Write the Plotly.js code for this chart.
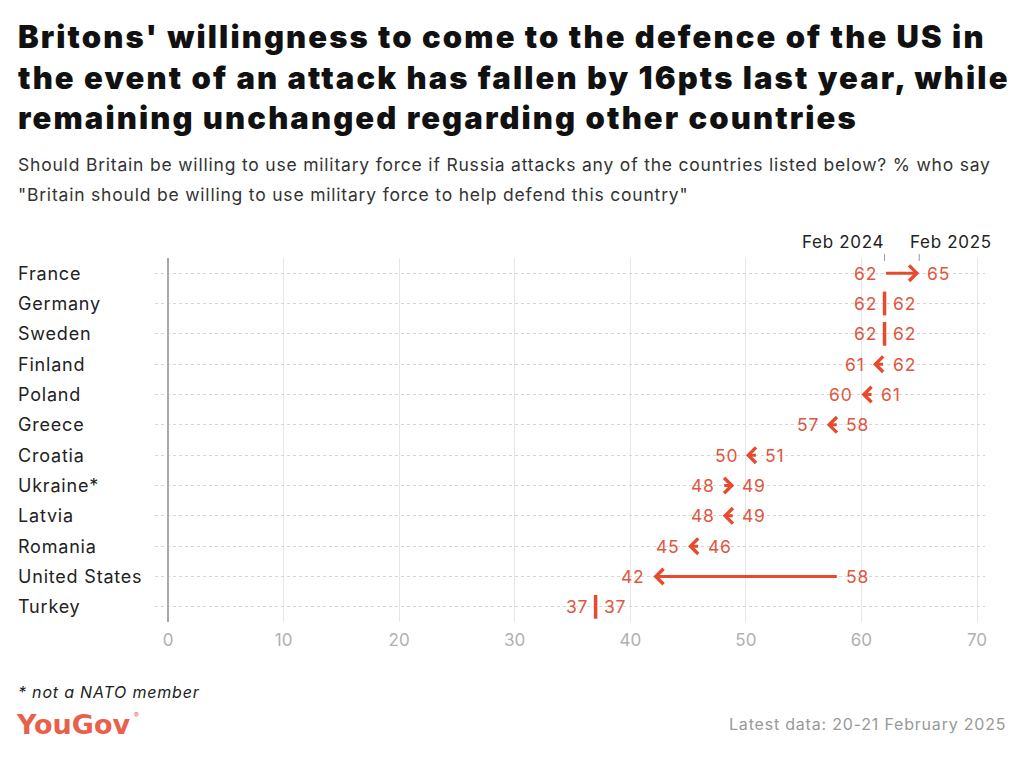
<!DOCTYPE html>
<html>
<head>
<meta charset="utf-8">
<script src="https://cdn.plot.ly/plotly-3.0.1.min.js"></script>
<style>
  html, body { margin: 0; padding: 0; background: #fff; }
  #chart { width: 1024px; height: 758px; }
</style>
</head>
<body>
<div id="chart"></div>
<script>
// ---- Data ----
const countries = ["France", "Germany", "Sweden", "Finland", "Poland", "Greece", "Croatia", "Ukraine*", "Latvia", "Romania", "United States", "Turkey"];
const feb2024 = [62, 62, 62, 62, 61, 58, 51, 48, 49, 46, 58, 37];
const feb2025 = [65, 62, 62, 61, 60, 57, 50, 49, 48, 45, 42, 37];
const xTickVals = [0, 10, 20, 30, 40, 50, 60, 70];
const seriesLabels = ["Feb 2024", "Feb 2025"];

const titleLines = [
  "Britons' willingness to come to the defence of the US in",
  "the event of an attack has fallen by 16pts last year, while",
  "remaining unchanged regarding other countries"
];
const subtitleLines = [
  "Should Britain be willing to use military force if Russia attacks any of the countries listed below? % who say",
  "\"Britain should be willing to use military force to help defend this country\""
];
const footnote = "* not a NATO member";
const sourceNote = "Latest data: 20-21 February 2025";
const logoText = "YouGov";

// ---- Style ----
const FONT = "Inter, 'Open Sans', sans-serif";
const ARROW = "#e84a2e";
const LABEL = "#e0573f";
const W = 1024, H = 758;
const M = { l: 155, r: 39, t: 258, b: 136 };
const plotW = W - M.l - M.r;
const plotH = H - M.t - M.b;
const pxPerUnit = (977 - 168) / 70;
const xMin = -13 / pxPerUnit;
const xMax = xMin + plotW / pxPerUnit;

function py(pixY) { return (H - M.b - pixY) / plotH; }
function px(pixX) { return (pixX - M.l) / plotW; }
function sp(t, ls) { return "<span style='letter-spacing:" + ls + "px'>" + t + "</span>"; }

const annotations = [];
const shapes = [];

titleLines.forEach((t, i) => {
  annotations.push({
    text: sp(t, 2.1), xref: "paper", yref: "paper",
    x: px(16), y: py(37 + i * 40), xanchor: "left", yanchor: "middle",
    showarrow: false, font: { family: FONT, size: 31, color: "#111", weight: 900 }
  });
});
subtitleLines.forEach((t, i) => {
  annotations.push({
    text: sp(t, 0.8), xref: "paper", yref: "paper",
    x: px(16), y: py(164 + i * 30), xanchor: "left", yanchor: "middle",
    showarrow: false, font: { family: FONT, size: 17.5, color: "#333" }
  });
});

// country labels
countries.forEach((c) => {
  annotations.push({
    text: sp(c, 0.8), xref: "paper", yref: "y", x: px(16), y: c,
    xanchor: "left", yanchor: "middle", showarrow: false,
    font: { family: FONT, size: 18, color: "#222" }
  });
});

// arrows and value labels
const unchangedX = [], unchangedY = [];
countries.forEach((c, i) => {
  const a = feb2024[i], b = feb2025[i];
  const lo = Math.min(a, b), hi = Math.max(a, b);
  if (a !== b) {
    annotations.push({
      x: b, y: c, ax: a, ay: c, xref: "x", yref: "y", axref: "x", ayref: "y",
      text: "", showarrow: true, arrowhead: 4, arrowsize: 1.0, arrowwidth: 3,
      arrowcolor: ARROW, standoff: 0, startstandoff: 0
    });
  } else {
    unchangedX.push(a); unchangedY.push(c);
  }
  annotations.push({
    text: sp(String(lo), 0.8), x: lo, y: c, xref: "x", yref: "y",
    xanchor: "right", yanchor: "middle", xshift: -6, showarrow: false,
    font: { family: FONT, size: 17.5, color: LABEL }
  });
  annotations.push({
    text: sp(String(hi), 0.8), x: hi, y: c, xref: "x", yref: "y",
    xanchor: "left", yanchor: "middle", xshift: 6, showarrow: false,
    font: { family: FONT, size: 17.5, color: LABEL }
  });
});

// series header labels above first row
annotations.push({
  text: sp(seriesLabels[0], 0.7), x: feb2024[0], xref: "x", yref: "paper", y: 1,
  xanchor: "right", yanchor: "middle", yshift: 16, xshift: 1, showarrow: false,
  font: { family: FONT, size: 17, color: "#222" }
});
annotations.push({
  text: sp(seriesLabels[1], 0.7), x: feb2025[0], xref: "x", yref: "paper", y: 1,
  xanchor: "left", yanchor: "middle", yshift: 16, xshift: -11, showarrow: false,
  font: { family: FONT, size: 17, color: "#222" }
});
[feb2024[0], feb2025[0]].forEach((v) => {
  shapes.push({
    type: "line", xref: "x", yref: "paper", ysizemode: "pixel", yanchor: 1,
    x0: v, x1: v, y0: -3, y1: 4, line: { color: "#999", width: 1 }
  });
});

// footer
annotations.push({
  text: "<i>" + sp(footnote, 0.8) + "</i>", xref: "paper", yref: "paper",
  x: px(16), y: py(692), xanchor: "left", yanchor: "middle", showarrow: false,
  font: { family: FONT, size: 16, color: "#222" }
});
annotations.push({
  text: logoText, xref: "paper", yref: "paper",
  x: px(14), y: py(724), xanchor: "left", yanchor: "middle", showarrow: false,
  font: { family: "'DejaVu Sans', sans-serif", size: 27, color: "#e8604c", weight: 700 }
});
annotations.push({
  text: "®", xref: "paper", yref: "paper",
  x: px(132), y: py(715), xanchor: "left", yanchor: "middle", showarrow: false,
  font: { family: FONT, size: 7, color: "#e8604c" }
});
annotations.push({
  text: sp(sourceNote, 0.8), xref: "paper", yref: "paper",
  x: px(1008), y: py(724), xanchor: "right", yanchor: "middle", showarrow: false,
  font: { family: FONT, size: 16, color: "#999" }
});

const traces = [{
  type: "scatter", mode: "markers", x: unchangedX, y: unchangedY,
  marker: { symbol: "line-ns", size: 17, line: { color: ARROW, width: 3.5 } },
  hoverinfo: "skip", showlegend: false, cliponaxis: false
}];

const layout = {
  width: W, height: H,
  margin: M,
  paper_bgcolor: "#fff", plot_bgcolor: "#fff",
  showlegend: false,
  xaxis: {
    range: [xMin, xMax], tickvals: xTickVals, ticktext: xTickVals.map(String),
    showgrid: true, gridcolor: "#e6e6e6", gridwidth: 1,
    zeroline: true, zerolinecolor: "#aaa", zerolinewidth: 1.5,
    showline: false, ticks: "", ticklabelstandoff: 6,
    tickfont: { family: FONT, size: 17, color: "#b0b0b0" }, fixedrange: true
  },
  yaxis: {
    type: "category", categoryarray: countries, categoryorder: "array",
    range: [countries.length - 0.5, -0.5],
    showgrid: true, gridcolor: "#d6d6d6", griddash: "dot", gridwidth: 1,
    showticklabels: false, ticks: "", zeroline: false, showline: false, fixedrange: true
  },
  annotations: annotations,
  shapes: shapes
};

Plotly.newPlot("chart", traces, layout, { displayModeBar: false, staticPlot: true });
</script>
</body>
</html>
